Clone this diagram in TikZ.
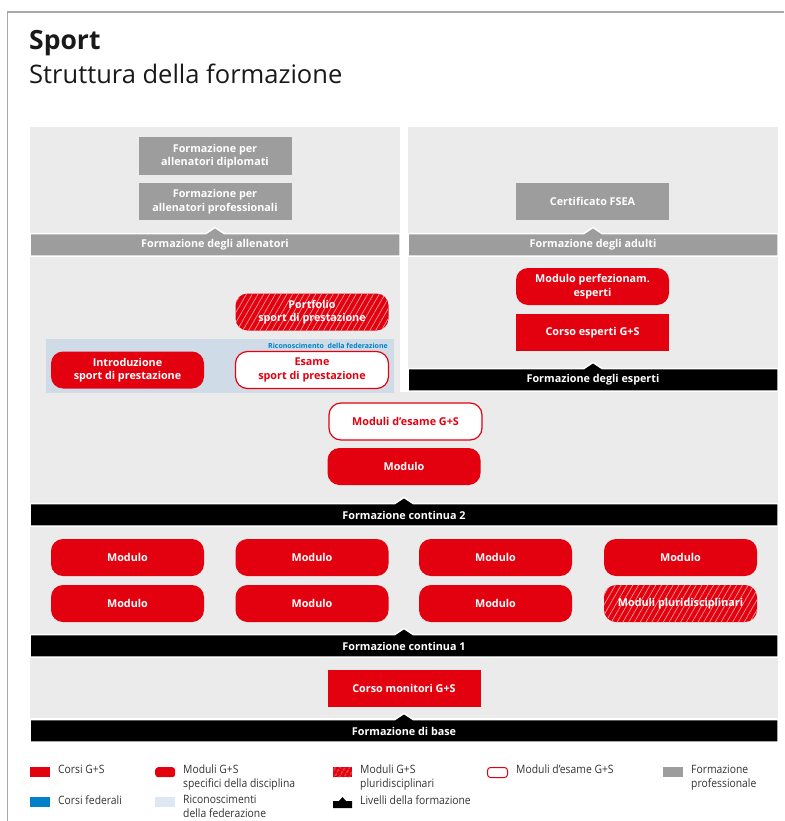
\documentclass[tikz,border=0pt]{standalone}
\usepackage{fontspec}
\setmainfont{Open Sans}
\newfontfamily\condf[FakeStretch=0.9]{Open Sans}
\usetikzlibrary{patterns.meta}
\definecolor{sred}{HTML}{E3000F}
\definecolor{pgray}{HTML}{9D9D9D}
\definecolor{bgray}{HTML}{EBEBEB}
\definecolor{lblue}{HTML}{CFDBE6}
\definecolor{legblue}{HTML}{DDE8F4}
\definecolor{fblue}{HTML}{0080C8}
\definecolor{hatchc}{HTML}{F39A9F}
\definecolor{legtext}{HTML}{333333}
\definecolor{framec}{HTML}{A8A8A8}
\newcommand\mybar[6]{\draw[white, line width=1.5pt, fill=#6] (#1,#2) -- (#5-9,#2) -- (#5,#2-6) -- (#5+9,#2) -- (#3,#2) -- (#3,#4) -- (#1,#4) -- cycle;}
\begin{document}
\begin{tikzpicture}[x=1pt,y=-1pt,
  box/.style={minimum width=153pt, minimum height=37pt, inner sep=0pt, align=center,
    font=\bfseries\fontsize{10.8}{13.5}\selectfont, text=white},
  rbox/.style={box, fill=sred},
  mbox/.style={box, fill=sred, rounded corners=12pt},
  ebox/.style={box, fill=white, draw=sred, line width=1.2pt, rounded corners=12pt, text=sred},
  hbox/.style={box, rounded corners=12pt, preaction={fill=sred},
    pattern={Lines[angle=60,distance=5pt,line width=0.7pt]}, pattern color=hatchc},
  gbox/.style={box, fill=pgray},
  barlab/.style={text=white, font=\bfseries\fontsize{10.8}{12.6}\selectfont, inner sep=0pt},
  legtxt/.style={text=legtext, font=\condf\fontsize{11.5}{14}\selectfont, align=left, inner sep=0pt, anchor=north west},
  legsw/.style={minimum width=20pt, minimum height=10pt, inner sep=0pt, anchor=north west}
]
\useasboundingbox (0,0) rectangle (784,821);
% frame
\draw[framec, line width=1.5pt] (7.5,821) -- (7.5,12) -- (784,12);
% title
\node[anchor=base west, inner sep=0pt, text=black!90, font=\bfseries\fontsize{26.5}{30}\selectfont] (t1) at (29,50) {Sport};
\node[anchor=base west, inner sep=0pt, text=black!90, font=\fontsize{25.5}{30}\selectfont] (t2) at (29,84) {Struttura della formazione};
% backgrounds
\fill[bgray] (30,127) rectangle (400,394);
\fill[bgray] (408,127) rectangle (778,392);
\fill[bgray] (30,392) rectangle (778,503);
\fill[bgray] (30,527) rectangle (778,634);
\fill[bgray] (30,658) rectangle (778,718);
\fill[lblue] (46,339) rectangle (394,393);
% level bars
\mybar{30}{233.5}{400}{256}{215}{pgray}
\mybar{408}{233.5}{778}{256}{593}{pgray}
\mybar{408}{368.5}{778}{391}{593}{black}
\mybar{30}{503.5}{778}{526}{404}{black}
\mybar{30}{634.5}{778}{657}{404}{black}
\mybar{30}{719.5}{778}{742}{404}{black}
\node[barlab] (lall) at (215,245) {Formazione degli allenatori};
\node[barlab] (ladu) at (593,244.5) {Formazione degli adulti};
\node[barlab] (lesp) at (593,380) {Formazione degli esperti};
\node[barlab] (lfc2) at (404,515) {Formazione continua 2};
\node[barlab] (lfc1) at (404,646) {Formazione continua 1};
\node[barlab] (lfb) at (404,731) {Formazione di base};
% left panel
\node[gbox, minimum height=38pt] (dipl) at (215,156) {Formazione per\\allenatori diplomati};
\node[gbox] (prof) at (215,201.5) {Formazione per\\allenatori professionali};
\node[hbox] (port) at (312,312) {Portfolio\\sport di prestazione};
\node[anchor=east, inner sep=0pt, text=fblue, font=\bfseries\fontsize{7}{8}\selectfont] (ric) at (388,346) {Riconoscimento\ \ della federazione};
\node[mbox] (intro) at (127.5,370) {Introduzione\\sport di prestazione};
\node[ebox] (esame) at (312,370) {Esame\\sport di prestazione};
% right panel
\node[gbox] (fsea) at (592.5,201.5) {Certificato FSEA};
\node[mbox] (perf) at (592.5,286.5) {Modulo perfezionam.\\esperti};
\node[rbox] (cesp) at (592.5,332.5) {Corso esperti G+S};
% continua 2
\node[ebox] (egs) at (405.5,421.5) {Moduli d’esame G+S};
\node[mbox] (m0) at (404,466.5) {Modulo};
% continua 1
\node[mbox] (m1) at (127.5,557.5) {Modulo};
\node[mbox] (m2) at (312,557.5) {Modulo};
\node[mbox] (m3) at (495.5,557.5) {Modulo};
\node[mbox] (m4) at (680.5,557.5) {Modulo};
\node[mbox] (m5) at (127.5,603.5) {Modulo};
\node[mbox] (m6) at (312,603.5) {Modulo};
\node[mbox] (m7) at (495.5,603.5) {Modulo};
\node[hbox] (m8) at (680.5,603.5) {Moduli pluridisciplinari};
% base
\node[rbox] (mon) at (404,688.5) {Corso monitori G+S};
% legend
\node[legsw, fill=sred] (k1) at (30,767) {};
\node[legtxt] (k1t) at (58,765) {Corsi G+S};
\node[legsw, fill=sred, rounded corners=3pt] (k2) at (155,767) {};
\node[legtxt] (k2t) at (183,765) {Moduli G+S\\specifici della disciplina};
\node[legsw, minimum width=19pt, preaction={fill=sred}, pattern={Lines[angle=60,distance=4pt,line width=0.7pt]}, pattern color=hatchc] (k3) at (333,767) {};
\node[legtxt] (k3t) at (360,765) {Moduli G+S\\pluridisciplinari};
\node[legsw, fill=white, draw=sred, line width=1pt, rounded corners=3pt] (k4) at (487,767) {};
\node[legtxt] (k4t) at (516,765) {Moduli d’esame G+S};
\node[legsw, fill=pgray] (k5) at (663,767) {};
\node[legtxt] (k5t) at (691,765) {Formazione\\professionale};
\node[legsw, fill=fblue] (k6) at (30,797) {};
\node[legtxt] (k6t) at (58,795) {Corsi federali};
\node[legsw, fill=legblue] (k7) at (155,797) {};
\node[legtxt] (k7t) at (183,795) {Riconoscimenti\\della federazione};
\fill[black] (333,808) -- (333,801) -- (339,801) -- (342.5,797) -- (346,801) -- (352,801) -- (352,808) -- cycle;
\node[legtxt] (k8t) at (360,795) {Livelli della formazione};
\end{tikzpicture}
\end{document}
